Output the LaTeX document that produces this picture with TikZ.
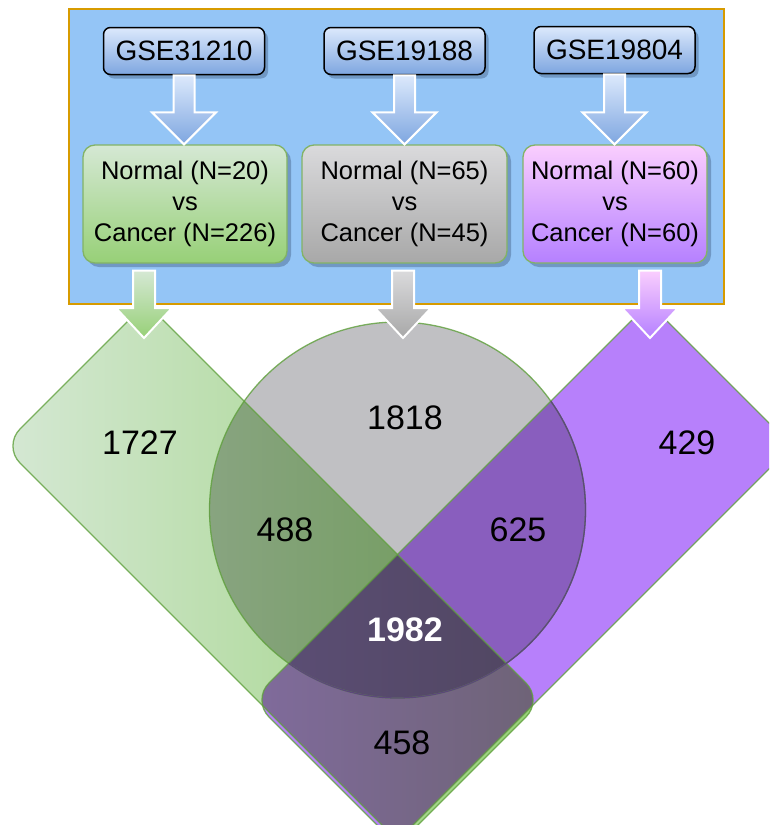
\documentclass[tikz,border=0pt]{standalone}
\usepackage{fontspec}
\setmainfont{Liberation Sans}
\usetikzlibrary{calc,shadows}

\definecolor{panelblue}{RGB}{148,197,246}
\definecolor{panelline}{RGB}{215,155,0}
\definecolor{gsetop}{RGB}{220,233,252}
\definecolor{gsebot}{RGB}{126,166,224}
\definecolor{shadowblue}{RGB}{112,152,196}
\definecolor{condline}{RGB}{130,179,102}
\definecolor{greentop}{RGB}{213,232,212}
\definecolor{greenbot}{RGB}{151,208,119}
\definecolor{graytop}{RGB}{218,218,220}
\definecolor{graybot}{RGB}{168,168,168}
\definecolor{purpletop}{RGB}{250,206,254}
\definecolor{purplebot}{RGB}{181,128,255}
\definecolor{vgray}{RGB}{192,192,195}
\definecolor{vpurple}{RGB}{183,128,251}
\definecolor{vgcL}{RGB}{136,164,128}
\definecolor{vgcR}{RGB}{118,158,100}
\definecolor{vgpL}{RGB}{128,107,156}
\definecolor{vgpR}{RGB}{110,99,118}
\definecolor{vcp}{RGB}{137,94,190}
\definecolor{vallL}{RGB}{92,78,118}
\definecolor{vallR}{RGB}{80,70,96}
\definecolor{vline}{RGB}{95,160,60}

% block arrow: start, tip, shaft half width, head half width, head length, fill
\newcommand{\fatarrow}[6]{%
  \path[fatarrow,#6] ($(#1)+(-#3,0)$) -- ($(#2)+(-#3,-#5)$) -- ($(#2)+(-#4,-#5)$)
    -- (#2) -- ($(#2)+(#4,-#5)$) -- ($(#2)+(#3,-#5)$) -- ($(#1)+(#3,0)$) -- cycle;}

\def\greenpath{(146,303) -- (543,700) -- (400,843) -- (3,446) -- cycle}
\def\purplepath{(649,303) -- (792,446) -- (395,843) -- (252,700) -- cycle}
\def\graypath{(397.5,510) circle [radius=188pt]}

\begin{document}
\begin{tikzpicture}[x=1pt,y=-1pt,
  gsebox/.style={draw=black,line width=1.5pt,rounded corners=7pt,top color=gsetop,bottom color=gsebot,
    minimum width=161pt,minimum height=47pt,inner sep=0pt,font=\fontsize{28}{32}\selectfont,
    drop shadow={shadow xshift=3.5pt,shadow yshift=-4pt,fill=shadowblue,opacity=1}},
  condbox/.style={draw=condline,line width=1.3pt,rounded corners=12pt,minimum height=118pt,
    inner sep=0pt,align=center,font=\fontsize{25.5}{31}\selectfont,
    drop shadow={shadow xshift=4pt,shadow yshift=-4pt,fill=shadowblue,opacity=1}},
  fatarrow/.style={draw=white,line width=2pt,line join=miter},
  count/.style={font=\fontsize{34}{40}\selectfont},
  vennline/.style={draw=vline,line width=1.3pt,opacity=.8,rounded corners=24pt}]
  \useasboundingbox (0,0) rectangle (769,825);

  % frame round the data sets
  \draw[panelline,fill=panelblue,line width=1.5pt] (69,9) rectangle (724,304);

  % venn diagram
  \begin{scope}
    \clip (0,0) rectangle (769,825);
    \shade[left color=greentop,right color=greenbot,rounded corners=24pt] \greenpath;
    \fill[vpurple,rounded corners=24pt] \purplepath;
    \fill[vgray] \graypath;
    \begin{scope}
      \clip[rounded corners=24pt] \greenpath;
      \clip[rounded corners=24pt] \purplepath;
      \shade[left color=vgpL,right color=vgpR] (252,550) rectangle (543,843);
    \end{scope}
    \begin{scope}
      \clip[rounded corners=24pt] \greenpath;
      \clip \graypath;
      \shade[left color=vgcL,right color=vgcR] (209,322) rectangle (420,700);
    \end{scope}
    \begin{scope}
      \clip[rounded corners=24pt] \purplepath;
      \clip \graypath;
      \fill[vcp] (380,322) rectangle (586,700);
    \end{scope}
    \begin{scope}
      \clip[rounded corners=24pt] \greenpath;
      \clip[rounded corners=24pt] \purplepath;
      \clip \graypath;
      \shade[left color=vallL,right color=vallR] (255,550) rectangle (545,700);
    \end{scope}
    \draw[vennline] \greenpath;
    \draw[vennline] \purplepath;
    \draw[vennline] \graypath;
    \begin{scope}
      \clip[rounded corners=24pt] \purplepath;
      \draw[line width=1.3pt,draw={rgb,255:red,92;green,72;blue,122}] \graypath;
    \end{scope}
  \end{scope}

  \node[count] (n1727) at (140,443) {1727};
  \node[count] (n1818) at (405,418) {1818};
  \node[count] (n429) at (687,443) {429};
  \node[count] (n488) at (285,530) {488};
  \node[count] (n625) at (518,530) {625};
  \node[count,text=white,font=\fontsize{34}{40}\selectfont\bfseries] (n1982) at (405,630) {1982};
  \node[count] (n458) at (402,743) {458};

  % data sets and comparisons
  \node[gsebox] (gseA) at (184,51) {GSE31210};
  \node[gsebox] (gseB) at (404.5,51) {GSE19188};
  \node[gsebox] (gseC) at (614.5,50) {GSE19804};

  \node[condbox,minimum width=204pt,top color=greentop,bottom color=greenbot] (condA) at (185,204)
    {Normal (N=20)\\vs\\Cancer (N=226)};
  \node[condbox,minimum width=205pt,top color=graytop,bottom color=graybot] (condB) at (404.5,204)
    {Normal (N=65)\\vs\\Cancer (N=45)};
  \node[condbox,minimum width=184pt,top color=purpletop,bottom color=purplebot] (condC) at (615,204)
    {Normal (N=60)\\vs\\Cancer (N=60)};

  \coordinate (tipA) at (144,338);
  \coordinate (tipB) at (403,338);
  \coordinate (tipC) at (650,338);
  \coordinate (topA) at (gseA.south |- condA.north);
  \coordinate (topB) at (gseB.south |- condB.north);
  \coordinate (topC) at (gseC.south |- condC.north);
  \coordinate (baseA) at ($(tipA |- condA.south)+(0,7)$);
  \coordinate (baseB) at ($(tipB |- condB.south)+(0,7)$);
  \coordinate (baseC) at ($(tipC |- condC.south)+(0,7)$);

  \fatarrow{gseA.south}{topA}{10.5}{32}{32}{top color=gsetop,bottom color=gsebot}
  \fatarrow{gseB.south}{topB}{10.5}{32}{32}{top color=gsetop,bottom color=gsebot}
  \fatarrow{gseC.south}{topC}{10.5}{32}{32}{top color=gsetop,bottom color=gsebot}
  \fatarrow{baseA}{tipA}{11}{28}{30}{top color=greentop,bottom color=greenbot}
  \fatarrow{baseB}{tipB}{11}{28}{30}{top color=graytop,bottom color=graybot}
  \fatarrow{baseC}{tipC}{11}{28}{30}{top color=purpletop,bottom color=purplebot}
\end{tikzpicture}
\end{document}
